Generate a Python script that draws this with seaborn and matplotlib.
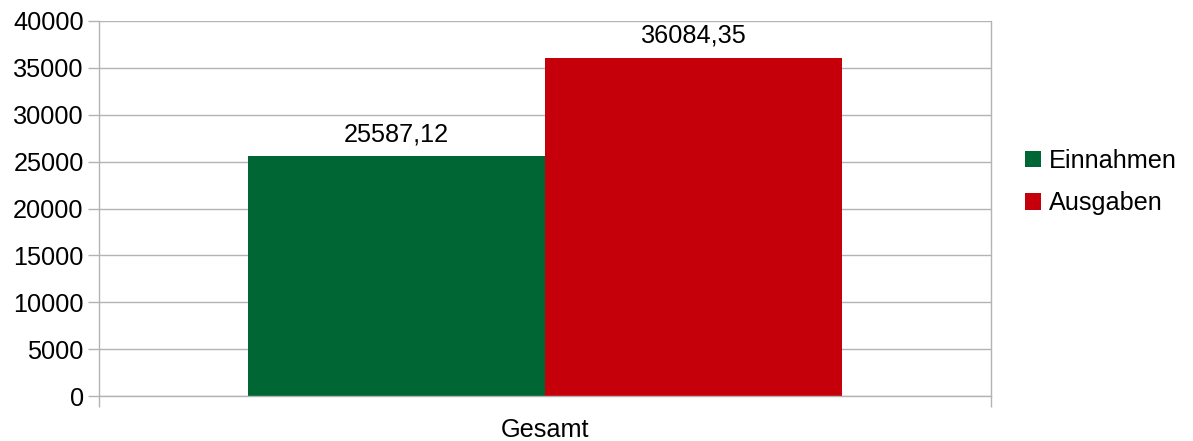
import matplotlib
matplotlib.use("Agg")
import matplotlib.pyplot as plt
import seaborn as sns
import pandas as pd
from matplotlib.ticker import FixedLocator
from matplotlib.patches import Patch

categories = ["Gesamt"]
series = ["Einnahmen", "Ausgaben"]
values = [25587.12, 36084.35]
colors = ["#006633", "#c5000b"]
yticks = [0, 5000, 10000, 15000, 20000, 25000, 30000, 35000, 40000]

df = pd.DataFrame({"cat": categories * len(series), "series": series, "value": values})

sns.set_theme(style="white")
plt.rcParams["font.family"] = ["Liberation Sans", "DejaVu Sans"]

FS = 18.2
fig = plt.figure(figsize=(11.93, 4.41), dpi=100)
ax = fig.add_axes([99/1193, 45/441, (991-99)/1193, (396-21)/441])

sns.barplot(data=df, x="cat", y="value", hue="series", palette=colors,
            width=2/3, dodge=True, ax=ax, legend=False, saturation=1, linewidth=0)

for c in ax.containers:
    ax.bar_label(c, labels=[f"{v:.2f}".replace(".", ",") for v in c.datavalues],
                 fontsize=FS, padding=7, color="black")

grid_c = "#b3b3b3"
ax.set_xlim(-0.5, 0.5)
ax.set_ylim(0, 40000)
ax.set_yticks(yticks)
ax.set_yticklabels([str(t) for t in yticks])
ax.yaxis.grid(True, color=grid_c, linewidth=1)
ax.set_axisbelow(True)
for s in ax.spines.values():
    s.set_color(grid_c)
    s.set_linewidth(1)
ax.spines["top"].set_visible(False)
ax.spines["right"].set_visible(True)
ax.tick_params(axis="y", length=8, width=1, color=grid_c, labelsize=FS, pad=3, left=True, labelcolor="black")
ax.tick_params(axis="x", which="major", length=0, labelsize=FS, pad=16, labelcolor="black")
ax.xaxis.set_minor_locator(FixedLocator([-0.5, 0.5]))
ax.tick_params(axis="x", which="minor", length=8, width=1, color=grid_c, bottom=True)
ax.set_xlabel("")
ax.set_ylabel("")

handles = [Patch(facecolor=c, edgecolor="none") for c in colors]
fig.legend(handles, series, loc="center left", bbox_to_anchor=(1002/1193, 1-182/441),
           frameon=False, fontsize=FS, handlelength=0.65, handleheight=0.65,
           handletextpad=0.3, labelspacing=0.72, labelcolor="black")

fig.savefig("out.png", dpi=100)
